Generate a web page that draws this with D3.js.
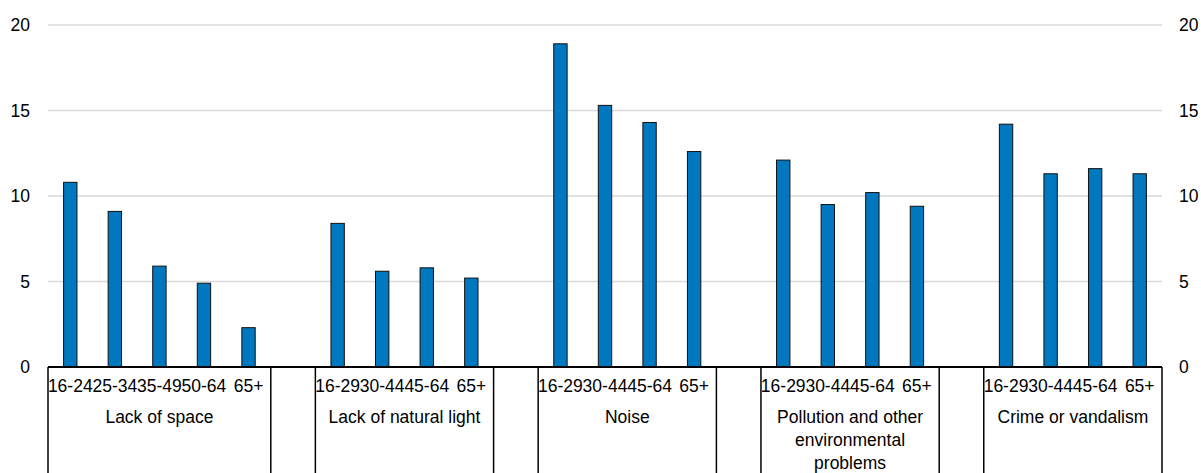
<!DOCTYPE html>
<html>
<head>
<meta charset="utf-8">
<script src="https://cdn.jsdelivr.net/npm/d3@7"></script>
<style>
  html, body { margin: 0; padding: 0; background: #fff; }
  svg { display: block; font-family: "Liberation Sans", Arial, sans-serif; }
</style>
</head>
<body>
<svg id="chart" width="1201" height="473"></svg>
<script>
const groups = ["Lack of space", "Lack of natural light", "Noise", "Pollution and other environmental problems", "Crime or vandalism"];
const ageLabels = [
  ["16-24", "25-34", "35-49", "50-64", "65+"],
  ["16-29", "30-44", "45-64", "65+"],
  ["16-29", "30-44", "45-64", "65+"],
  ["16-29", "30-44", "45-64", "65+"],
  ["16-29", "30-44", "45-64", "65+"]
];
const values = [
  [10.8, 9.1, 5.9, 4.9, 2.3],
  [8.4, 5.6, 5.8, 5.2],
  [18.9, 15.3, 14.3, 12.6],
  [12.1, 9.5, 10.2, 9.4],
  [14.2, 11.3, 11.6, 11.3]
];
const yTicks = [0, 5, 10, 15, 20];

// build slots (bars + one empty gap slot between groups)
const slots = [];
groups.forEach((g, gi) => {
  ageLabels[gi].forEach((a, ai) => slots.push({id: gi + "-" + ai, group: gi, age: a, value: values[gi][ai]}));
  if (gi < groups.length - 1) slots.push({id: "gap-" + gi, group: gi, gap: true});
});

const svg = d3.select("#chart");
const pLeft = 48, pRight = 1162, pTop = 25, pBottom = 367;

const x = d3.scaleBand().domain(slots.map(d => d.id)).range([pLeft, pRight]).paddingInner(0.7).paddingOuter(0.35);
const step = x.step();
const y = d3.scaleLinear().domain([0, 20]).range([pBottom, pTop]);

// gridlines
svg.append("g").selectAll("line").data(yTicks.filter(t => t !== 0)).join("line")
  .attr("x1", pLeft).attr("x2", pRight)
  .attr("y1", d => y(d)).attr("y2", d => y(d))
  .attr("stroke", "#d9d9d9").attr("stroke-width", 1.3);

// y axes
const fontSize = "17.5px";
const la = svg.append("g").attr("transform", `translate(${pLeft},0)`)
  .call(d3.axisLeft(y).tickValues(yTicks).tickSize(0).tickPadding(18));
la.select(".domain").remove();
la.selectAll("text").attr("font-size", fontSize).attr("fill", "#000").attr("font-family", "Liberation Sans, Arial, sans-serif");

const ra = svg.append("g").attr("transform", `translate(${pRight},0)`)
  .call(d3.axisRight(y).tickValues(yTicks).tickSize(0).tickPadding(17));
ra.select(".domain").remove();
ra.selectAll("text").attr("font-size", fontSize).attr("fill", "#000").attr("font-family", "Liberation Sans, Arial, sans-serif");

// bars
svg.append("g").selectAll("rect").data(slots.filter(d => !d.gap)).join("rect")
  .attr("x", d => x(d.id))
  .attr("width", x.bandwidth())
  .attr("y", d => y(d.value))
  .attr("height", d => y(0) - y(d.value))
  .attr("fill", "#0078bf")
  .attr("stroke", "#111")
  .attr("stroke-width", 1);

// baseline
svg.append("line").attr("x1", pLeft).attr("x2", pRight).attr("y1", y(0)).attr("y2", y(0))
  .attr("stroke", "#000").attr("stroke-width", 2);

// separators: boundaries around groups and gaps
const boundaries = [pLeft];
slots.forEach((d, i) => {
  const next = slots[i + 1];
  if (!next || next.gap || d.gap) boundaries.push(x(d.id) - step * x.paddingOuter() + step);
});
svg.append("g").selectAll("line").data(boundaries).join("line")
  .attr("x1", d => d).attr("x2", d => d)
  .attr("y1", y(0)).attr("y2", 473)
  .attr("stroke", "#000").attr("stroke-width", 1.5);

// age labels
svg.append("g").selectAll("text").data(slots.filter(d => !d.gap)).join("text")
  .attr("x", d => x(d.id) + x.bandwidth() / 2)
  .attr("y", 392)
  .attr("text-anchor", "middle")
  .attr("font-size", fontSize)
  .attr("fill", "#000")
  .text(d => d.age);

// group labels (wrapped)
groups.forEach((g, gi) => {
  const ids = slots.filter(d => !d.gap && d.group === gi).map(d => d.id);
  const cx = (x(ids[0]) + x(ids[ids.length - 1]) + x.bandwidth()) / 2;
  const t = svg.append("text").attr("x", cx).attr("y", 423)
    .attr("text-anchor", "middle").attr("font-size", fontSize).attr("fill", "#000");
  const words = g.split(" ");
  let line = [], lineNo = 0;
  let ts = t.append("tspan").attr("x", cx).attr("y", 423);
  words.forEach(w => {
    line.push(w);
    ts.text(line.join(" "));
    if (ts.node().getComputedTextLength() > 165 && line.length > 1) {
      line.pop();
      ts.text(line.join(" "));
      line = [w];
      lineNo++;
      ts = t.append("tspan").attr("x", cx).attr("y", 423 + lineNo * 23).text(w);
    }
  });
});
</script>
</body>
</html>
